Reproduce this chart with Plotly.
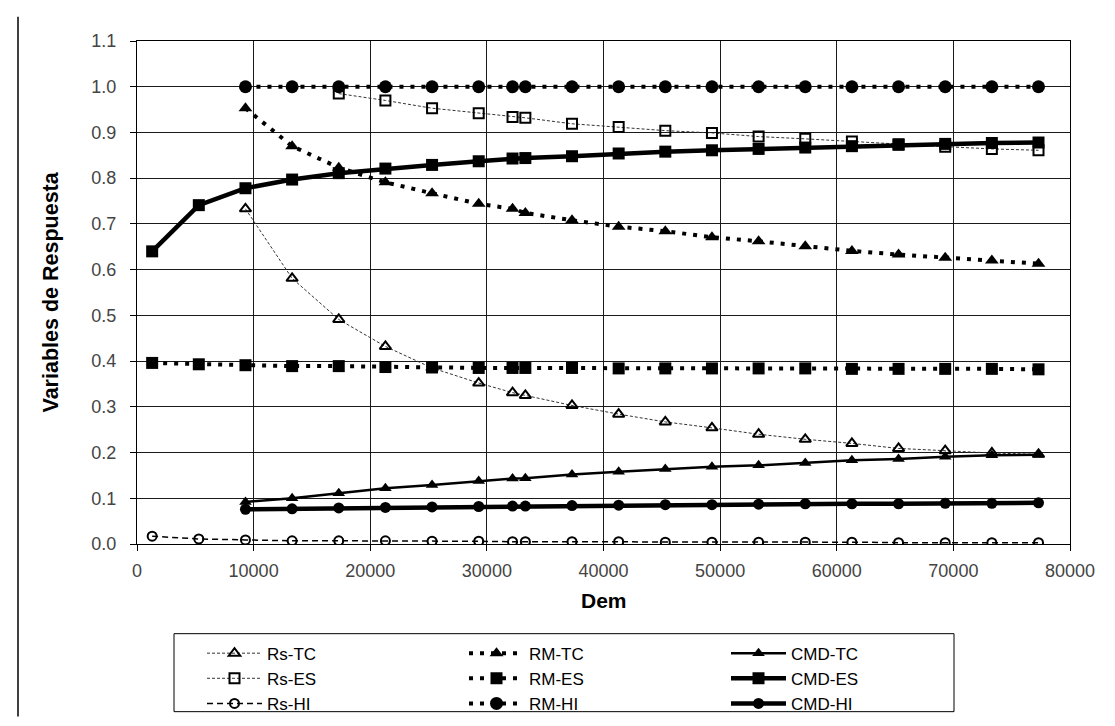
import plotly.graph_objects as go

# ---- data ----
dem = [1300, 5300, 9300, 13300, 17300, 21300, 25300, 29300, 32200, 33300, 37300,
       41300, 45300, 49300, 53300, 57300, 61300, 65300, 69300, 73300, 77300]

rs_tc = [None, None, 0.733, 0.581, 0.491, 0.432, 0.385, 0.352, 0.331, 0.325, 0.303,
         0.284, 0.267, 0.254, 0.240, 0.229, 0.220, 0.209, 0.204, 0.199, 0.196]
rs_es = [None, None, None, None, 0.985, 0.970, 0.953, 0.942, 0.934, 0.932, 0.919,
         0.912, 0.904, 0.899, 0.891, 0.886, 0.880, 0.874, 0.869, 0.864, 0.861]
rs_hi = [0.017, 0.011, 0.009, 0.007, 0.007, 0.007, 0.006, 0.006, 0.005, 0.005, 0.005,
         0.005, 0.004, 0.004, 0.004, 0.004, 0.004, 0.003, 0.003, 0.003, 0.003]
rm_tc = [None, None, 0.953, 0.870, 0.823, 0.791, 0.767, 0.744, 0.733, 0.724, 0.708,
         0.694, 0.684, 0.671, 0.662, 0.651, 0.641, 0.633, 0.626, 0.620, 0.613]
rm_es = [0.396, 0.393, 0.391, 0.389, 0.389, 0.387, 0.386, 0.385, 0.385, 0.385, 0.385,
         0.384, 0.384, 0.384, 0.384, 0.384, 0.383, 0.383, 0.383, 0.383, 0.382]
rm_hi = [None, None, 1.0, 1.0, 1.0, 1.0, 1.0, 1.0, 1.0, 1.0, 1.0,
         1.0, 1.0, 1.0, 1.0, 1.0, 1.0, 1.0, 1.0, 1.0, 1.0]
cmd_tc = [None, None, 0.092, 0.100, 0.111, 0.122, 0.129, 0.138, 0.143, 0.144, 0.152,
          0.158, 0.164, 0.169, 0.172, 0.177, 0.183, 0.186, 0.191, 0.194, 0.195]
cmd_es = [0.640, 0.741, 0.778, 0.797, 0.811, 0.821, 0.829, 0.837, 0.843, 0.844, 0.848,
          0.854, 0.858, 0.861, 0.864, 0.867, 0.870, 0.873, 0.875, 0.877, 0.878]
cmd_hi = [None, None, 0.076, 0.077, 0.079, 0.080, 0.081, 0.082, 0.083, 0.083, 0.084,
          0.085, 0.086, 0.086, 0.087, 0.088, 0.088, 0.088, 0.089, 0.089, 0.090]

x_ticks = [0, 10000, 20000, 30000, 40000, 50000, 60000, 70000, 80000]
y_ticks = [0.0, 0.1, 0.2, 0.3, 0.4, 0.5, 0.6, 0.7, 0.8, 0.9, 1.0, 1.1]

FONT = "Liberation Sans, Arial, sans-serif"

# (name, values, line width, dash, symbol, marker size, marker line width)
series = [
    ("Rs-TC", rs_tc, 1, "3px,2px", "triangle-up-open", 10, 2),
    ("RM-TC", rm_tc, 4, "4px,7px", "triangle-up", 12, 0),
    ("CMD-TC", cmd_tc, 2.5, "solid", "triangle-up", 11, 0),
    ("Rs-ES", rs_es, 1, "3px,2px", "square-open", 10, 2),
    ("RM-ES", rm_es, 4, "4px,7px", "square", 12, 0),
    ("CMD-ES", cmd_es, 4.5, "solid", "square", 12, 0),
    ("Rs-HI", rs_hi, 1.5, "6px,4px", "circle-open", 9, 2),
    ("RM-HI", rm_hi, 4, "4px,7px", "circle", 13, 0),
    ("CMD-HI", cmd_hi, 4.5, "solid", "circle", 11, 0),
]

fig = go.Figure()
for name, vals, lw, dash, sym, ms, mlw in series:
    lc = "#333333" if lw <= 1 else "black"
    fig.add_trace(go.Scatter(
        x=dem, y=vals, name=name, mode="lines+markers",
        line=dict(color=lc, width=lw, dash=dash),
        marker=dict(symbol=sym, size=ms, color="black",
                    line=dict(width=mlw, color="black")),
    ))

L, R, T, B = 129, 53, 33, 177
PW = 1115 - L - R
PH = 726 - T - B

fig.update_layout(
    width=1115, height=726,
    margin=dict(l=L, r=R, t=T, b=B),
    paper_bgcolor="white", plot_bgcolor="white",
    font=dict(family=FONT, color="black"),
    showlegend=True,
    legend=dict(
        orientation="h", x=(194 - L) / PW, xanchor="left",
        y=(549 - 643) / PH, yanchor="top",
        entrywidth=192, entrywidthmode="pixels", itemwidth=55,
        font=dict(size=17, family=FONT, color="black"),
        bgcolor="rgba(0,0,0,0)", borderwidth=0,
        tracegroupgap=0,
    ),
    xaxis=dict(
        range=[0, 80000], tickvals=x_ticks, tickformat="d",
        showgrid=True, gridcolor="#1a1a1a", gridwidth=1,
        showline=True, linecolor="black", linewidth=1, mirror=True,
        ticks="outside", ticklen=6, tickcolor="black",
        tickfont=dict(size=18, color="#444444", family=FONT),
        ticklabelstandoff=4, zeroline=False,
    ),
    yaxis=dict(
        range=[0, 1.1], tickvals=y_ticks, tickformat=".1f",
        showgrid=True, gridcolor="#1a1a1a", gridwidth=1,
        showline=True, linecolor="black", linewidth=1, mirror=True,
        ticks="outside", ticklen=6, tickcolor="black",
        tickfont=dict(size=18, color="#444444", family=FONT),
        ticklabelstandoff=10, zeroline=False,
    ),
    annotations=[
        dict(text="<b>Dem</b>", xref="paper", yref="paper", x=0.5, y=(549 - 607) / PH,
             xanchor="center", yanchor="middle", showarrow=False,
             font=dict(size=21, family=FONT, color="black")),
        dict(text="<b>Variables de Respuesta</b>", xref="paper", yref="paper",
             x=(42 - L) / PW, y=0.5, xanchor="center", yanchor="middle", textangle=-90,
             showarrow=False, font=dict(size=21.5, family=FONT, color="black")),
    ],
    shapes=[
        dict(type="rect", xref="paper", yref="paper",
             x0=(166 - L) / PW, x1=(946 - L) / PW,
             y0=(549 - 721) / PH, y1=(549 - 641) / PH,
             line=dict(color="black", width=1), fillcolor="rgba(0,0,0,0)", layer="below"),
        dict(type="line", xref="paper", yref="paper",
             x0=(10 - L) / PW, x1=(10 - L) / PW,
             y0=(549 - 726) / PH, y1=(549 - 8) / PH,
             line=dict(color="black", width=1.5)),
    ],
)

fig.write_html("out.html")
